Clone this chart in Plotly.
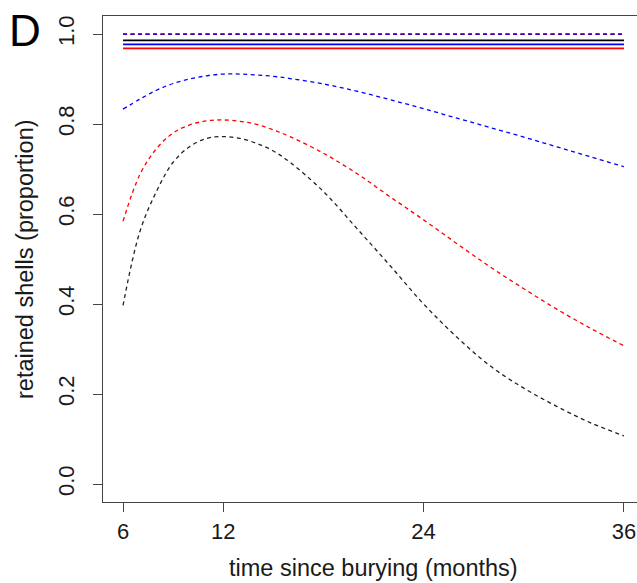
import plotly.graph_objects as go

# ---- data ----
months_curve = [6, 7, 8, 9, 10, 11, 12, 13, 14, 15, 16, 18, 20, 22, 24, 26, 28, 30, 32, 34, 36]
black_lower = [0.397, 0.560, 0.650, 0.715, 0.750, 0.768, 0.772, 0.768, 0.757, 0.740, 0.715,
               0.650, 0.568, 0.485, 0.400, 0.326, 0.262, 0.213, 0.172, 0.136, 0.107]
red_lower = [0.584, 0.687, 0.745, 0.780, 0.798, 0.807, 0.809, 0.806, 0.799, 0.787, 0.772,
             0.735, 0.690, 0.638, 0.587, 0.534, 0.482, 0.434, 0.388, 0.346, 0.307]
blue_lower = [0.833, 0.855, 0.875, 0.890, 0.900, 0.907, 0.911, 0.911, 0.909, 0.906, 0.901,
              0.889, 0.873, 0.854, 0.834, 0.813, 0.792, 0.771, 0.749, 0.727, 0.705]

months_flat = [6, 36]
black_fit = [0.986, 0.986]
blue_fit = [0.977, 0.977]
red_fit = [0.968, 0.968]
black_upper = [0.9995, 0.9995]
red_upper = [0.9995, 0.9995]
blue_upper = [0.9995, 0.9995]

x_ticks = [6, 12, 24, 36]
y_ticks = [0.0, 0.2, 0.4, 0.6, 0.8, 1.0]
y_tick_labels = ["0.0", "0.2", "0.4", "0.6", "0.8", "1.0"]

FONT = "Liberation Sans, Arial, sans-serif"
DASH = "4px,3.5px"

fig = go.Figure()

def add(x, y, color, dash=None, width=1.4, shape="linear", opacity=1.0):
    fig.add_trace(go.Scatter(x=x, y=y, mode="lines", opacity=opacity,
                             line=dict(color=color, width=width, dash=dash, shape=shape),
                             showlegend=False, hoverinfo="skip", cliponaxis=False))

# upper bounds (overlapping dashed lines near 1.0)
add(months_flat, black_upper, "black", DASH, 1.4)
add(months_flat, red_upper, "red", DASH, 1.4)
add(months_flat, blue_upper, "blue", DASH, 1.4, opacity=0.72)
# fitted lines
add(months_flat, black_fit, "black", None, 1.8)
add(months_flat, blue_fit, "blue", None, 1.8)
add(months_flat, red_fit, "red", None, 1.8)
# lower bounds
add(months_curve, blue_lower, "blue", DASH, 1.3, "spline")
add(months_curve, red_lower, "red", DASH, 1.3, "spline")
add(months_curve, black_lower, "#222222", DASH, 1.3, "spline")

axis_col = "#444444"
fig.update_layout(
    width=637, height=583,
    margin=dict(l=103, r=0, t=16, b=81, autoexpand=False),
    plot_bgcolor="white", paper_bgcolor="white",
    font=dict(family=FONT, size=22, color="#1a1a1a"),
    xaxis=dict(range=[4.8, 36.78], tickvals=x_ticks, ticktext=[str(v) for v in x_ticks],
               showgrid=False, zeroline=False, showline=True, mirror=True,
               linecolor=axis_col, linewidth=1.3, ticks="outside", ticklen=9,
               tickcolor=axis_col, tickwidth=1.2, tickfont=dict(size=22),
               ticklabelstandoff=0, automargin=False),
    yaxis=dict(range=[-0.04, 1.04], tickvals=y_ticks, ticktext=y_tick_labels,
               showgrid=False, zeroline=False, showline=True, mirror=False,
               linecolor=axis_col, linewidth=1.3, ticks="outside", ticklen=9,
               tickcolor=axis_col, tickwidth=1.2, tickfont=dict(size=22),
               tickangle=-90, ticklabelstandoff=10, automargin=False),
    annotations=[
        dict(text="time since burying (months)", xref="x", yref="paper", x=21, y=0,
             yshift=-66, showarrow=False, xanchor="center", yanchor="middle",
             font=dict(size=23.5)),
        dict(text="retained shells (proportion)", xref="paper", yref="paper",
             x=0, y=0.5, xshift=-78, showarrow=False, textangle=-90,
             xanchor="center", yanchor="middle", font=dict(size=23.5)),
        dict(text="D", xref="paper", yref="paper", x=0, y=1, xshift=-96, yshift=-14,
             showarrow=False, xanchor="left", yanchor="middle",
             font=dict(size=44, color="black")),
    ],
)

# remove the browser's default 8px body margin so the figure fills the window
fig.write_html("out.html", config={"displayModeBar": False},
               post_script="document.body.style.margin='0px';")
